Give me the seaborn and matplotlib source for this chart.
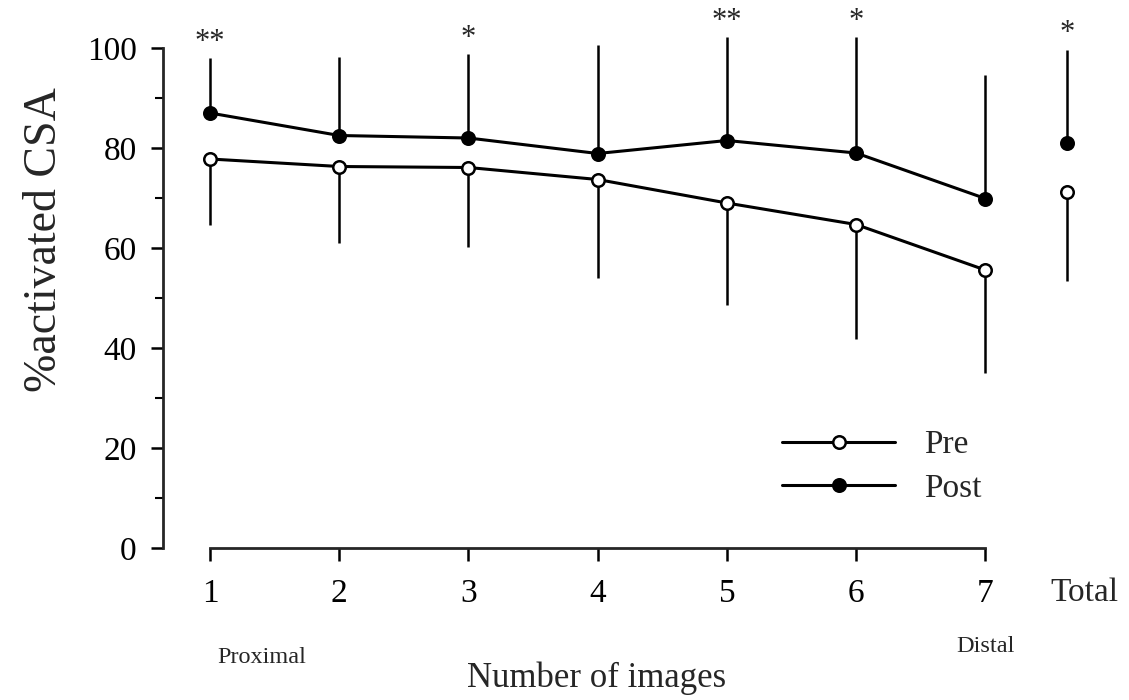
import numpy as np
import pandas as pd
import seaborn as sns
import matplotlib.pyplot as plt
from matplotlib.lines import Line2D

# ---- data ----
images = [1, 2, 3, 4, 5, 6, 7]
pre_mean = [77.8, 76.3, 76.1, 73.7, 69.0, 64.7, 55.6]
pre_low = [64.7, 61.1, 60.2, 54.0, 48.6, 41.8, 35.1]      # lower end of error bar
post_mean = [87.0, 82.5, 82.0, 78.9, 81.5, 79.0, 69.9]
post_high = [98.0, 98.2, 98.8, 100.7, 102.3, 102.2, 94.7]  # upper end of error bar
total_pos = 7.63
total_pre, total_pre_low = 71.2, 53.5
total_post, total_post_high = 81.0, 99.7
signif = ['**', '', '*', '', '**', '*', '']
total_signif = '*'
xtick_labels = ['1', '2', '3', '4', '5', '6', '7']

sns.set_style('ticks')
plt.rcParams['font.family'] = ['Liberation Serif', 'DejaVu Serif']

LW = 2.2
MS = 9
ELW = 1.8

fig = plt.figure(figsize=(11.29, 7.0), dpi=100)
ax = fig.add_axes([163 / 1129, (700 - 548) / 700, (1108 - 163) / 1129, 545 / 700])

df = pd.DataFrame({
    'image': images * 2,
    'value': pre_mean + post_mean,
    'phase': ['Pre'] * 7 + ['Post'] * 7,
})

# error bars (one-sided)
pre_err = np.array(pre_mean) - np.array(pre_low)
post_err = np.array(post_high) - np.array(post_mean)
ax.errorbar(images, pre_mean, yerr=[pre_err, np.zeros(7)], fmt='none',
            ecolor='black', elinewidth=ELW, capsize=0, zorder=1)
ax.errorbar(images, post_mean, yerr=[np.zeros(7), post_err], fmt='none',
            ecolor='black', elinewidth=ELW, capsize=0, zorder=1)
ax.errorbar([total_pos], [total_pre], yerr=[[total_pre - total_pre_low], [0]], fmt='none',
            ecolor='black', elinewidth=ELW, capsize=0, zorder=1)
ax.errorbar([total_pos], [total_post], yerr=[[0], [total_post_high - total_post]], fmt='none',
            ecolor='black', elinewidth=ELW, capsize=0, zorder=1)

# lines
sns.lineplot(data=df[df.phase == 'Pre'], x='image', y='value', ax=ax, color='black',
             linewidth=LW, marker='o', markersize=MS, markerfacecolor='white',
             markeredgecolor='black', markeredgewidth=1.8, legend=False, zorder=3)
sns.lineplot(data=df[df.phase == 'Post'], x='image', y='value', ax=ax, color='black',
             linewidth=LW, marker='o', markersize=MS, markerfacecolor='black',
             markeredgecolor='black', markeredgewidth=1.8, legend=False, zorder=3)

# total points
sns.scatterplot(x=[total_pos], y=[total_pre], ax=ax, s=MS ** 2, color='white',
                edgecolor='black', linewidth=1.8, zorder=4, legend=False)
sns.scatterplot(x=[total_pos], y=[total_post], ax=ax, s=MS ** 2, color='black',
                edgecolor='black', linewidth=1.8, zorder=4, legend=False)

# significance stars
for x, top, s in zip(images, post_high, signif):
    if s:
        ax.text(x, top + 6.0, s, ha='center', va='top', fontsize=22, clip_on=False)
ax.text(total_pos, total_post_high + 6.0, total_signif, ha='center', va='top',
        fontsize=22, clip_on=False)

# axes styling
ax.set_xlim(0.636, 7.95)
ax.set_ylim(0, 109)
sns.despine(ax=ax)
ax.spines['left'].set_bounds(0, 100)
ax.spines['bottom'].set_bounds(1, 7)
ax.spines['left'].set_linewidth(2.0)
ax.spines['bottom'].set_linewidth(2.0)
ax.set_yticks([0, 20, 40, 60, 80, 100])
ax.set_yticks([10, 30, 50, 70, 90], minor=True)
ax.set_xticks(images)
ax.set_xticklabels(xtick_labels)
ax.tick_params(axis='both', which='major', direction='out', length=9, width=1.8,
               labelsize=24, color='black', labelcolor='black')
ax.tick_params(axis='y', which='minor', direction='out', length=6, width=1.5, color='black')
ax.tick_params(axis='x', pad=13)
ax.tick_params(axis='y', pad=10)
ax.set_xlabel('')
ax.set_ylabel('')

ax.text(7.77, -0.055, 'Total', transform=ax.get_xaxis_transform(), ha='center', va='top',
        fontsize=24)
ax.text(1.4, -0.182, 'Proximal', transform=ax.get_xaxis_transform(), ha='center', va='top',
        fontsize=17.5)
ax.text(7.0, -0.162, 'Distal', transform=ax.get_xaxis_transform(), ha='center', va='top',
        fontsize=17.5)
fig.text(597 / 1129, 1 - 678 / 700, 'Number of images', ha='center', va='center', fontsize=25)
fig.text(45 / 1129, 1 - 240 / 700, '%activated CSA', ha='center', va='center',
         rotation=90, fontsize=33)

# legend
handles = [
    Line2D([], [], color='black', linewidth=LW, marker='o', markersize=MS,
           markerfacecolor='white', markeredgecolor='black', markeredgewidth=1.8),
    Line2D([], [], color='black', linewidth=LW, marker='o', markersize=MS,
           markerfacecolor='black', markeredgecolor='black', markeredgewidth=1.8),
]
ax.legend(handles, ['Pre', 'Post'], loc='upper left', bbox_to_anchor=(0.655, 0.217),
          frameon=False, fontsize=24, handlelength=3.4, handletextpad=0.85,
          labelspacing=0.4, borderpad=0, borderaxespad=0, numpoints=1)

fig.savefig('out.png', dpi=100)
